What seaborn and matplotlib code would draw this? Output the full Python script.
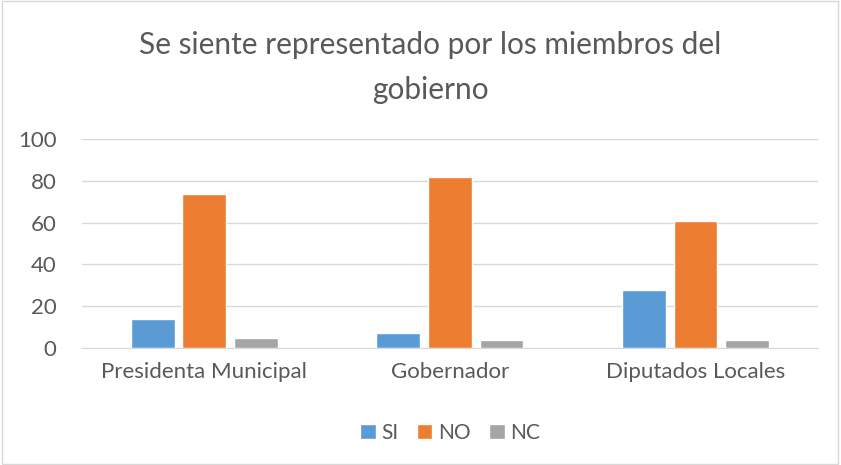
import pandas as pd
import seaborn as sn
from matplotlib import pyplot as plt
from matplotlib.patches import Rectangle

# data
categories = ["Presidenta Municipal", "Gobernador", "Diputados Locales"]
respuestas = ["SI", "NO", "NC"]
si_values = [14, 7, 28]
no_values = [74, 82, 61]
nc_values = [5, 4, 4]

colors = ["#5B9BD5", "#ED7D31", "#A5A5A5"]
text_color = "#595959"

rows = []
for resp, vals in zip(respuestas, [si_values, no_values, nc_values]):
    for cat, v in zip(categories, vals):
        rows.append({"categoria": cat, "respuesta": resp, "valor": v})
df = pd.DataFrame(rows)

sn.set_style("white")
plt.rcParams['font.family'] = ['Lato', 'DejaVu Sans']

fig = plt.figure(figsize=(8.41, 4.65), dpi=100)
ax = fig.add_axes([0.097, 0.2516, 0.876, 0.449])

sn.barplot(data=df, x="categoria", y="valor", hue="respuesta", palette=colors,
           saturation=1, width=0.63, gap=0.15, ax=ax, legend=True)

ax.set_ylim(0, 100)
ax.set_yticks(range(0, 101, 20))
ax.set_xlim(-0.5, 2.5)
ax.yaxis.grid(True, color="#D9D9D9", linewidth=1)
ax.set_axisbelow(True)
for side in ["top", "right", "left"]:
    ax.spines[side].set_visible(False)
ax.spines["bottom"].set_color("#D9D9D9")
ax.set_xlabel("")
ax.set_ylabel("")
ax.tick_params(axis="both", length=0, labelsize=16, colors=text_color)
ax.tick_params(axis="y", pad=18)
ax.tick_params(axis="x", pad=10)

ax.legend(loc="upper center", bbox_to_anchor=(0.5, -0.27), ncol=3, frameon=False,
          fontsize=15, handlelength=0.75, handleheight=0.75, columnspacing=0.9,
          handletextpad=0.25, labelcolor=text_color)

fig.text(0.512, 0.855, "Se siente representado por los miembros del\ngobierno",
         ha="center", va="center", fontsize=21.5, color=text_color, linespacing=1.75)

fig.patches.append(Rectangle((0.002, 0.003), 0.995, 0.994, transform=fig.transFigure,
                             fill=False, edgecolor="#D9D9D9", linewidth=1))

plt.savefig("out.png", dpi=100)
